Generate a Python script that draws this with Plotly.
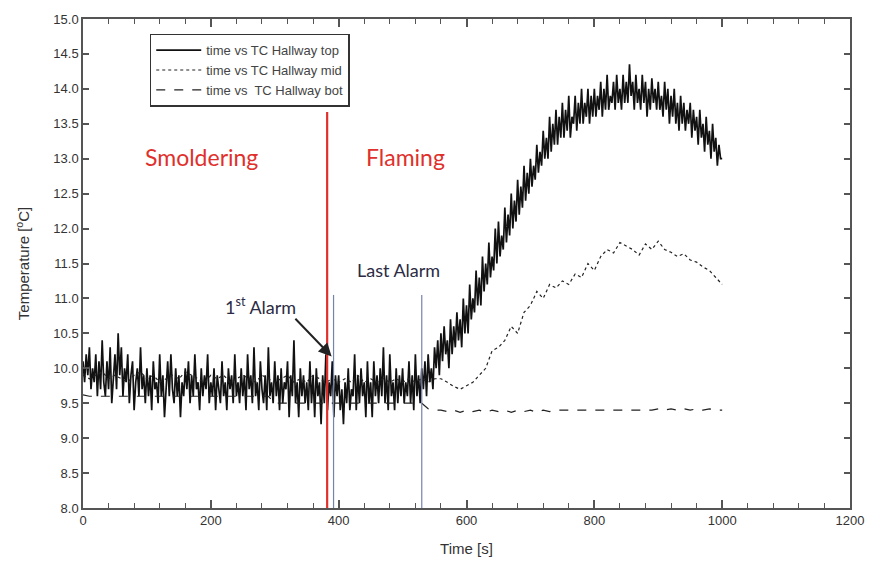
import plotly.graph_objects as go

# ---- measured temperatures -------------------------------------------------
# TC Hallway top, sampled every 2.5 s from 0 to 1000 s
top_temp = [
    # 0 - 547.5 s : smouldering phase
    10.1, 9.8, 10.2, 9.9, 10.3, 9.7, 10.0, 9.8, 10.2, 9.6, 10.1, 9.7, 10.4, 9.8, 9.6, 10.1, 9.7, 10.3, 9.5, 9.9,
    10.2, 9.7, 10.5, 9.9, 10.3, 9.6, 10.0, 9.8, 10.2, 9.5, 9.9, 10.1, 9.4, 9.8, 10.0, 9.6, 10.3, 9.7, 9.9, 9.5,
    10.0, 9.6, 9.9, 9.4, 10.1, 9.7, 9.8, 9.5, 10.2, 9.6, 9.9, 9.3, 9.8, 10.1, 9.6, 10.2, 9.7, 9.5, 10.0, 9.6,
    9.9, 9.3, 9.8, 9.6, 10.0, 9.7, 10.1, 9.5, 9.9, 9.6, 10.2, 9.7, 9.8, 9.4, 10.0, 9.6, 9.9, 9.7, 10.2, 9.5,
    9.8, 9.6, 10.0, 9.4, 9.9, 9.7, 9.5, 10.1, 9.6, 9.8, 9.4, 10.0, 9.7, 9.9, 9.5, 10.2, 9.6, 9.8, 9.5, 10.0,
    9.6, 9.9, 9.4, 10.2, 9.7, 9.9, 9.5, 10.3, 9.6, 9.8, 9.4, 10.1, 9.7, 9.5, 9.9, 9.4, 10.3, 9.6, 9.8, 9.5,
    10.1, 9.6, 9.9, 9.4, 10.0, 9.5, 9.8, 9.7, 10.1, 9.3, 9.9, 9.6, 10.4, 9.5, 9.8, 9.3, 10.0, 9.6, 9.9, 9.5,
    9.8, 9.4, 10.1, 9.5, 9.9, 9.3, 10.0, 9.6, 9.8, 9.2, 9.9, 9.5, 10.2, 9.4, 9.8, 9.6, 10.1, 9.3, 9.9, 9.6,
    9.9, 9.4, 9.7, 9.2, 9.8, 9.5, 10.0, 9.4, 9.7, 9.6, 10.2, 9.4, 9.9, 9.5, 10.0, 9.6, 9.8, 9.3, 10.1, 9.5,
    9.8, 9.3, 10.1, 9.6, 9.9, 9.5, 10.0, 9.6, 10.3, 9.5, 9.9, 9.4, 10.2, 9.6, 9.8, 9.4, 10.0, 9.5, 9.9, 9.6,
    10.0, 9.5, 9.8, 9.6, 10.1, 9.5, 9.9, 9.4, 10.2, 9.6, 9.9, 9.5, 10.0, 9.7, 10.1, 9.6, 10.2, 9.8, 10.0, 9.7,
    # 550 - 997.5 s : flaming phase
    10.3, 10.0, 10.4, 9.9, 10.5, 10.1, 10.6, 10.2, 10.4, 10.0, 10.7, 10.2, 10.6, 10.3, 10.8, 10.4, 10.7, 10.3, 11.0, 10.5,
    10.9, 10.5, 11.2, 10.7, 11.0, 10.8, 11.4, 10.9, 11.3, 10.9, 11.6, 11.1, 11.5, 11.2, 11.8, 11.3, 11.6, 11.4, 12.0, 11.5,
    12.1, 11.6, 11.9, 11.7, 12.3, 11.8, 12.2, 11.9, 12.5, 12.0, 12.4, 12.1, 12.7, 12.2, 12.6, 12.3, 12.9, 12.4, 12.8, 12.5,
    13.0, 12.6, 12.9, 12.7, 13.2, 12.8, 13.1, 12.9, 13.4, 13.0, 13.3, 13.0, 13.6, 13.1, 13.5, 13.2, 13.7, 13.2, 13.6, 13.3,
    13.8, 13.3, 13.7, 13.4, 13.9, 13.3, 13.6, 13.5, 13.9, 13.4, 13.8, 13.5, 14.0, 13.5, 13.8, 13.6, 14.0, 13.5, 13.9, 13.6,
    14.0, 13.6, 13.9, 13.7, 14.1, 13.6, 14.0, 13.7, 14.2, 13.7, 13.9, 13.8, 14.1, 13.7, 14.2, 13.8, 14.0, 13.7, 14.2, 13.8,
    14.1, 13.8, 14.35, 13.9, 14.1, 13.7, 14.2, 13.8, 14.0, 13.7, 14.2, 13.8, 14.1, 13.6, 14.0, 13.7, 14.15, 13.8, 14.0, 13.7,
    14.1, 13.7, 13.9, 13.6, 14.1, 13.7, 14.0, 13.5, 13.9, 13.6, 14.0, 13.5, 13.8, 13.4, 13.9, 13.5, 13.8, 13.4, 13.7, 13.5,
    13.8, 13.3, 13.7, 13.4, 13.6, 13.2, 13.7, 13.3, 13.5, 13.1, 13.6, 13.2, 13.4, 13.0, 13.5, 13.1, 13.3, 12.9, 13.2, 13.0,
    # 1000 s
    13.0,
]
top_time = [i * 2.5 for i in range(len(top_temp))]

# TC Hallway mid, every 10 s
mid_temp = [
    9.9, 9.85, 9.9, 9.95, 9.85, 9.9, 9.85, 9.8, 9.9, 9.95,
    9.85, 9.9, 9.8, 9.85, 9.9, 9.85, 9.95, 9.9, 9.85, 9.8,
    9.9, 9.85, 9.9, 9.8, 9.85, 9.9, 9.85, 9.8, 9.9, 9.85,
    9.8, 9.85, 9.9, 9.8, 9.85, 9.8, 9.9, 9.85, 9.8, 9.85,
    9.8, 9.85, 9.8, 9.9, 9.8, 9.85, 9.8, 9.85, 9.8, 9.85,
    9.8, 9.85, 9.8, 9.85, 9.8, 9.85,
    9.85, 9.8, 9.74, 9.7, 9.75, 9.8, 9.9, 10.0, 10.25, 10.3,
    10.4, 10.6, 10.5, 10.8, 10.9, 11.1, 11.0, 11.2, 11.15, 11.25,
    11.2, 11.35, 11.3, 11.5, 11.4, 11.6, 11.7, 11.65, 11.8, 11.75,
    11.7, 11.62, 11.78, 11.7, 11.82, 11.7, 11.66, 11.6, 11.64, 11.55,
    11.52, 11.45, 11.4, 11.3, 11.2,
]
mid_time = [i * 10 for i in range(len(mid_temp))]

# TC Hallway bot, every 10 s
bot_temp = [
    9.62, 9.6, 9.6, 9.6, 9.6, 9.6, 9.6, 9.6, 9.6, 9.6,
    9.6, 9.6, 9.6, 9.6, 9.6, 9.6, 9.6, 9.6, 9.6, 9.6,
    9.6, 9.6, 9.6, 9.6, 9.6, 9.6, 9.6, 9.6, 9.6, 9.6,
    9.5, 9.5, 9.5, 9.5, 9.5, 9.5, 9.5, 9.5, 9.5, 9.5,
    9.5, 9.5, 9.5, 9.5, 9.5, 9.5, 9.5, 9.5, 9.5, 9.5,
    9.5, 9.5, 9.5, 9.5, 9.42, 9.4,
    9.4, 9.38, 9.4, 9.37, 9.4, 9.38, 9.4, 9.37, 9.4, 9.38,
    9.4, 9.37, 9.4, 9.38, 9.4, 9.37, 9.4, 9.38, 9.4, 9.4,
    9.4, 9.4, 9.4, 9.4, 9.4, 9.4, 9.4, 9.4, 9.4, 9.4,
    9.4, 9.4, 9.4, 9.4, 9.42, 9.4, 9.42, 9.4, 9.42, 9.4,
    9.42, 9.4, 9.42, 9.4, 9.4,
]
bot_time = [i * 10 for i in range(len(bot_temp))]

# ---- events ----------------------------------------------------------------
transition_time = 382          # smouldering -> flaming
transition_top = 13.67
alarm_times = [392, 530]       # first and last alarm
alarm_top = 11.05

RED = "#e0302c"
ALARM_BLUE = "#7484ae"
TEXT_DARK = "#2b2b44"
AXIS_FONT = "Liberation Sans, Arial, sans-serif"

fig = go.Figure()

fig.add_trace(go.Scatter(
    x=top_time, y=top_temp, mode="lines",
    name="time vs TC Hallway top",
    line=dict(color="#111111", width=1.7),
))
fig.add_trace(go.Scatter(
    x=mid_time, y=mid_temp, mode="lines",
    name="time vs TC Hallway mid",
    line=dict(color="#222222", width=1.2, dash="dot"),
))
fig.add_trace(go.Scatter(
    x=bot_time, y=bot_temp, mode="lines",
    name="time vs  TC Hallway bot",
    line=dict(color="#222222", width=1.2, dash="dash"),
))

fig.add_shape(type="line", xref="x", yref="y",
              x0=transition_time, x1=transition_time, y0=8.0, y1=transition_top,
              line=dict(color=RED, width=2.2))
for t in alarm_times:
    fig.add_shape(type="line", xref="x", yref="y",
                  x0=t, x1=t, y0=8.0, y1=alarm_top,
                  line=dict(color=ALARM_BLUE, width=1.2))

label_font = "Lato, Open Sans, sans-serif"
fig.add_annotation(x=186, y=13.03, text="Smoldering", showarrow=False,
                   font=dict(family=label_font, size=23, color=RED))
fig.add_annotation(x=504, y=13.03, text="Flaming", showarrow=False,
                   font=dict(family=label_font, size=23, color=RED))
fig.add_annotation(x=493, y=11.41, text="Last Alarm", showarrow=False,
                   font=dict(family=label_font, size=18, color=TEXT_DARK))
fig.add_annotation(x=278, y=10.89, text="1<sup>st</sup> Alarm", showarrow=False,
                   font=dict(family=label_font, size=18, color=TEXT_DARK))
fig.add_annotation(x=389, y=10.17, ax=330, ay=10.73, axref="x", ayref="y",
                   text="", showarrow=True, arrowhead=2, arrowsize=1.3,
                   arrowwidth=2, arrowcolor="#222222")

axis_common = dict(
    showline=True, linecolor="#555555", linewidth=1.5, mirror="ticks",
    ticks="inside", tickcolor="#555555", tickwidth=1.5,
    showgrid=False, zeroline=False,
    tickfont=dict(family=AXIS_FONT, size=13, color="#333333"),
)

fig.update_xaxes(
    range=[0, 1200], dtick=200, tick0=0, ticklen=8,
    minor=dict(dtick=40, ticks="inside", ticklen=5, tickcolor="#555555", tickwidth=1.2),
    title=dict(text="Time [s]", font=dict(family=AXIS_FONT, size=15, color="#333333"),
               standoff=16),
    **axis_common,
)
fig.update_yaxes(
    range=[8.0, 15.0], dtick=0.5, tick0=8.0, tickformat=".1f", ticklen=6,
    title=dict(text="Temperature [<sup>o</sup>C]",
               font=dict(family=AXIS_FONT, size=15, color="#333333"),
               standoff=20),
    **axis_common,
)

fig.update_layout(
    width=876, height=571,
    margin=dict(l=83, r=21, t=14, b=63),
    paper_bgcolor="white", plot_bgcolor="white",
    showlegend=True,
    legend=dict(
        x=0.087, y=0.97, xanchor="left", yanchor="top",
        bgcolor="white", bordercolor="#333333", borderwidth=1.5,
        font=dict(family=AXIS_FONT, size=13, color="#444444"),
        tracegroupgap=0, itemwidth=45,
    ),
)

fig.write_html("out.html")
